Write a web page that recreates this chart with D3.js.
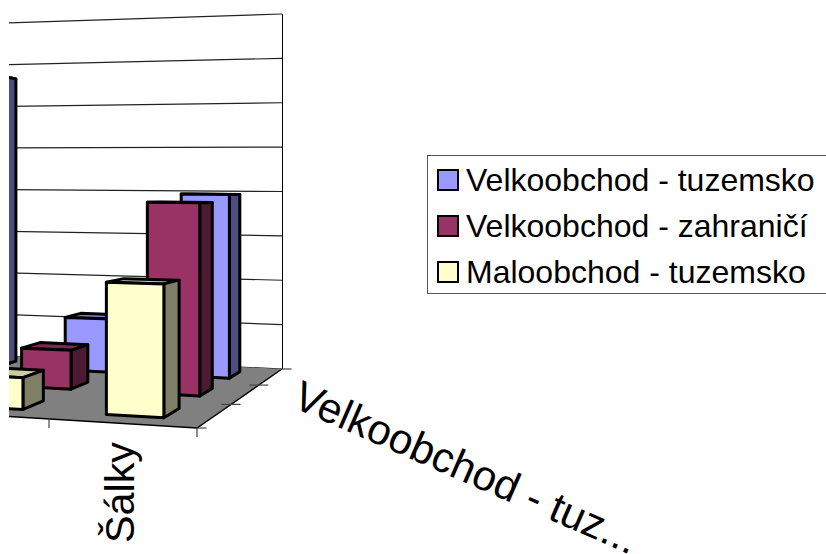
<!DOCTYPE html>
<html><head><meta charset="utf-8">
<script src="https://cdn.jsdelivr.net/npm/d3@7"></script>
<style>html,body{margin:0;padding:0;background:#fff;overflow:hidden}svg{display:block}text{font-family:"Liberation Sans",Arial,sans-serif;fill:#000}</style>
</head><body><svg id="c" width="826" height="554"></svg>
<script>
const categories = ["A", "B", "Šálky"];
const categoryLabels = ["", "", "Šálky"];
const seriesNames = ["Velkoobchod - tuzemsko", "Velkoobchod - zahraničí", "Maloobchod - tuzemsko"];
const velkoTuzemsko = [6.58, 1.17, 3.93];
const velkoZahranici = [null, 0.78, 3.77];
const maloTuzemsko = [null, 0.58, 2.36];
const seriesValues = [velkoTuzemsko, velkoZahranici, maloTuzemsko];
const frontColors = ["#9999FF", "#993366", "#FFFFCC"];
const sideColors = ["#4D4D80", "#4D1A33", "#808066"];
const topColors = ["#7A7ACC", "#7A2952", "#CCCCA3"];
const gridTicks = [0, 1, 2, 3, 4, 5, 6, 7, 8];
const depthLabel = "Velkoobchod - tuz...";

const svg = d3.select("#c");
const defs = svg.append("defs");
defs.append("clipPath").attr("id", "plot").append("rect").attr("x", 9).attr("y", 0).attr("width", 400).attr("height", 554);
const g = svg.append("g").attr("clip-path", "url(#plot)");

// projection: s = category units from right edge, d = depth 0 front..1 back, v = value
const A = [197, 428], B = [282, 369], C = [49, 419], D = [168, 363.7];
const sum = [A[0]-C[0]+D[0]-B[0], A[1]-C[1]+D[1]-B[1]];
const d1 = [C[0]-D[0], C[1]-D[1]], d2 = [B[0]-D[0], B[1]-D[1]];
const det = d1[0]*d2[1]-d2[0]*d1[1];
const ws = (sum[0]*d2[1]-d2[0]*sum[1])/det, wd = (d1[0]*sum[1]-sum[0]*d1[1])/det;
const wallH = 355*(1+wd);
const valueScale = d3.scaleLinear().domain([0, 8]).range([0, wallH]);
function P(s, d, v) {
  const w = 1+ws*s+wd*d;
  const x = (A[0]+(C[0]*(1+ws)-A[0])*s+(B[0]*(1+wd)-A[0])*d)/w;
  const y = (A[1]+(C[1]*(1+ws)-A[1])*s+(B[1]*(1+wd)-A[1])*d-valueScale(v))/w;
  return [x, y];
}
const n = categories.length;
const catScale = d3.scaleBand().domain(categories).range([n, 0]).paddingInner(0.6).paddingOuter(0.3);
const serScale = d3.scaleBand().domain(seriesNames).range([1, 0]).paddingInner(0.6).paddingOuter(0.3);
const poly = pts => "M" + pts.map(p => p.join(",")).join("L") + "Z";

// walls and floor
const wallLeft = n + 0.5;
g.append("path").attr("d", poly([P(0,1,0),P(wallLeft,1,0),P(wallLeft,1,8),P(0,1,8)])).attr("fill", "#fff");
g.selectAll("line.grid").data(gridTicks).join("line").attr("class", "grid")
  .attr("x1", v => P(0,1,v)[0]).attr("y1", v => P(0,1,v)[1])
  .attr("x2", v => P(wallLeft,1,v)[0]).attr("y2", v => P(wallLeft,1,v)[1])
  .attr("stroke", "#222").attr("stroke-width", 1.2);
g.append("line").attr("x1", P(0,1,0)[0]+0.5).attr("y1", P(0,1,0)[1]).attr("x2", P(0,1,8)[0]+0.5).attr("y2", P(0,1,8)[1]).attr("stroke", "#000").attr("stroke-width", 1);
g.append("path").attr("d", poly([P(0,0,0),P(0,1,0),P(wallLeft,1,0),P(wallLeft,0,0)])).attr("fill", "#808080");
g.append("path").attr("d", "M" + [P(wallLeft,0,0),P(0,0,0),P(0,1,0)].map(p=>p.join(",")).join("L")).attr("fill", "none").attr("stroke", "#000").attr("stroke-width", 1.4);

// ticks
const tickColor = "#444";
g.selectAll("line.ct").data(d3.range(0, n+1)).join("line").attr("class", "ct")
  .attr("x1", s => P(s,0,0)[0]).attr("y1", s => P(s,0,0)[1]).attr("x2", s => P(s,0,0)[0]).attr("y2", s => P(s,0,0)[1]+9)
  .attr("stroke", tickColor).attr("stroke-width", 1.2);
const depthTicks = [0, 1/3, 2/3, 1];
g.selectAll("line.dt").data(depthTicks).join("line").attr("class", "dt")
  .attr("x1", d => P(0,d,0)[0]-(d===0||d===1?0:9.5)).attr("y1", d => P(0,d,0)[1])
  .attr("x2", d => P(0,d,0)[0]+9.5).attr("y2", d => P(0,d,0)[1])
  .attr("stroke", tickColor).attr("stroke-width", 1.2);

// bars, back to front, left to right
const items = [];
seriesNames.forEach((sn, i) => categories.forEach((c, j) => {
  const v = seriesValues[i][j];
  if (v != null) items.push({sn, c, v, i});
}));
const bars = g.selectAll("g.bar").data(items).join("g").attr("class", "bar")
  .attr("stroke", "#000").attr("stroke-width", 3).attr("stroke-linejoin", "round");
bars.each(function(o) {
  const s0 = catScale(o.c), s1 = s0 + catScale.bandwidth();
  const d0 = serScale(o.sn), d1b = d0 + serScale.bandwidth();
  const el = d3.select(this);
  el.append("path").attr("d", poly([P(s1,d1b,o.v),P(s0,d1b,o.v),P(s0,d0,o.v),P(s1,d0,o.v)])).attr("fill", topColors[o.i]);
  el.append("path").attr("d", poly([P(s0,d0,0),P(s0,d1b,0),P(s0,d1b,o.v),P(s0,d0,o.v)])).attr("fill", sideColors[o.i]);
  el.append("path").attr("d", poly([P(s1,d0,0),P(s0,d0,0),P(s0,d0,o.v),P(s1,d0,o.v)])).attr("fill", frontColors[o.i]);
});

// axis labels
const catCenter = c => P(catScale(c)+catScale.bandwidth()/2, 0, 0);
svg.selectAll("text.cat").data(categoryLabels.map((t,i)=>({t,c:categories[i]})).filter(o=>o.t)).join("text").attr("class","cat")
  .attr("transform", o => `translate(${catCenter(o.c)[0]+12},543) rotate(-90)`)
  .attr("font-size", 41.3).text(o => o.t);
svg.append("text").attr("transform", "translate(290.7,406.5) rotate(23.6)")
  .attr("font-size", 42.2).text(depthLabel);

// legend
const leg = svg.append("g");
leg.append("rect").attr("x",427.5).attr("y",155.5).attr("width",420).attr("height",138).attr("fill","#fff").attr("stroke","#555").attr("stroke-width",1);
const legY = d3.scalePoint().domain(seriesNames).range([180, 272]);
const row = leg.selectAll("g").data(seriesNames).join("g").attr("transform", s => `translate(0,${legY(s)})`);
row.append("rect").attr("x",438).attr("y",-10).attr("width",20).attr("height",20).attr("fill",(s,i)=>frontColors[i]).attr("stroke","#000").attr("stroke-width",2);
row.append("text").attr("x",466).attr("y",10.5).attr("font-size",32).text(s=>s);
</script></body></html>
